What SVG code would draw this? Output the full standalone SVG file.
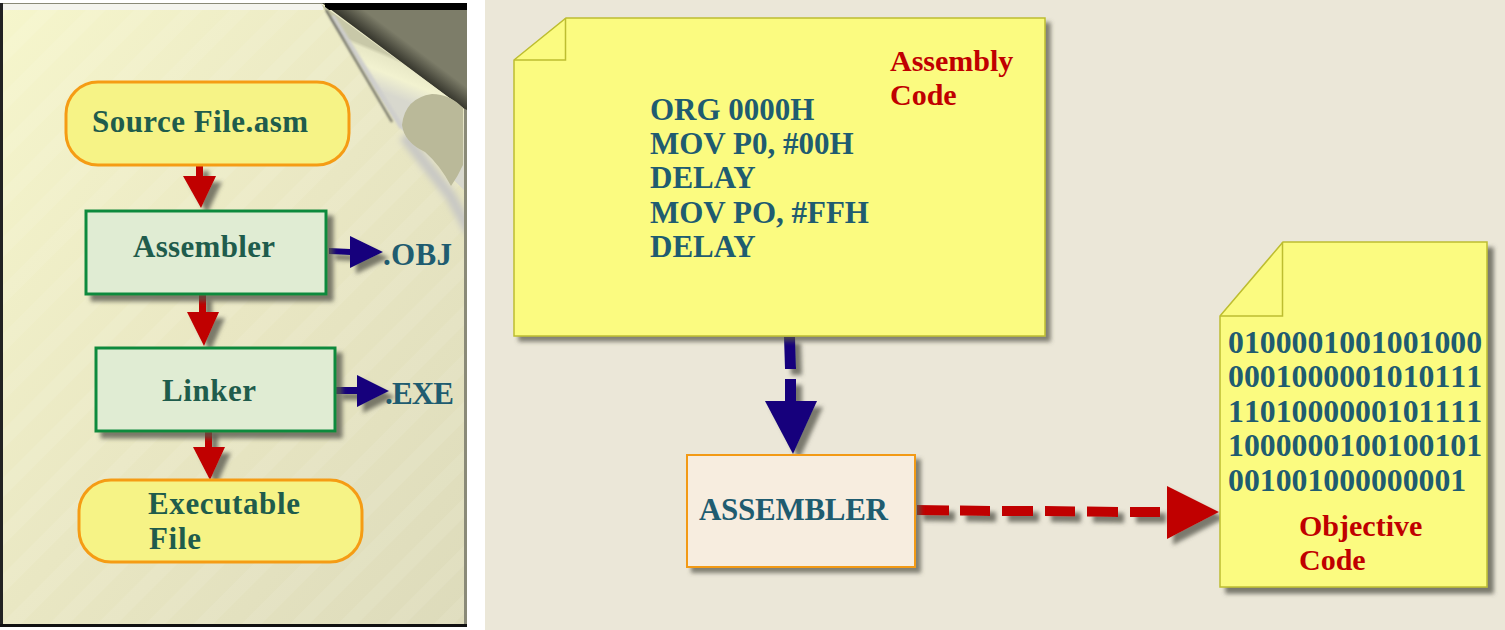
<svg xmlns="http://www.w3.org/2000/svg" width="1505" height="630" viewBox="0 0 1505 630">
<style>
text{font-family:"Liberation Serif","Times New Roman",serif;font-weight:bold}
.t{fill:#1F5C4C;font-size:31px}
.c{fill:#1F5C70;font-size:31px}
.b{fill:#1F5C70;font-size:31.750px;font-kerning:none}
.r{fill:#C00000;font-size:30px}
.term{fill:#F6F386;stroke:#F59C14;stroke-width:3}
.proc{fill:#E0ECD3;stroke:#0F8A3C;stroke-width:3}
.note{fill:#FBFB80;stroke:#BDBD30;stroke-width:1.500}
</style>
<defs>
<linearGradient id="pg" x1="0" y1="0" x2="1" y2="1"><stop offset="0" stop-color="#F6F6CC"/><stop offset="0.5" stop-color="#E9E7C3"/><stop offset="1" stop-color="#DDDBBB"/></linearGradient>
<linearGradient id="fold" gradientUnits="userSpaceOnUse" x1="378" y1="90" x2="392" y2="56"><stop offset="0" stop-color="#D8D8CE"/><stop offset="0.5" stop-color="#F2F2D0"/><stop offset="0.9" stop-color="#E8E8C6"/><stop offset="1" stop-color="#C8C8A8"/></linearGradient>
<linearGradient id="dark" gradientUnits="userSpaceOnUse" x1="392" y1="56" x2="404" y2="40"><stop offset="0" stop-color="#33332A"/><stop offset="1" stop-color="#7D7D69"/></linearGradient>
<pattern id="st" width="34" height="34" patternUnits="userSpaceOnUse" patternTransform="rotate(-45)"><rect width="34" height="14" fill="#FFFFFF" opacity="0.08"/></pattern>
<clipPath id="pc"><rect x="3" y="4" width="461" height="620"/></clipPath>
<filter id="s" x="-20%" y="-20%" width="150%" height="150%"><feDropShadow dx="6" dy="6" stdDeviation="2" flood-color="#55554A" flood-opacity="0.75"/></filter>
<filter id="sm" x="-10%" y="-10%" width="130%" height="130%"><feDropShadow dx="5" dy="5" stdDeviation="2" flood-color="#55554A" flood-opacity="0.7"/></filter>
<filter id="bl" x="-30%" y="-30%" width="160%" height="160%"><feGaussianBlur stdDeviation="3"/></filter>
<filter id="bl1" x="-30%" y="-30%" width="160%" height="160%"><feGaussianBlur stdDeviation="1"/></filter>
</defs>
<rect width="1505" height="630" fill="#FFFFFF"/>
<rect x="485" width="1020" height="630" fill="#EBE7D8"/>
<g id="page">
<rect x="0" y="3" width="467" height="624" fill="#8A8A78"/>
<rect x="0" y="3" width="3" height="624" fill="#222222"/>
<rect x="0" y="624" width="467" height="3" fill="#111111"/>
<rect x="3" y="4" width="461" height="620" fill="url(#pg)"/>
<rect x="3" y="4" width="461" height="620" fill="url(#st)"/>
<rect x="3" y="4" width="320" height="6" fill="#F4F4EE"/>
<polygon points="322,3 467,3 467,110 463,108" fill="url(#dark)"/>
<rect x="325" y="3" width="142" height="7" fill="#000000"/>
<g clip-path="url(#pc)"><path d="M404,136 L450,195 L470,232" fill="none" stroke="#C8C8C4" stroke-width="11" filter="url(#bl)"/></g>
<polygon points="321,4 463,108 464,190 402,130" fill="url(#fold)"/>
<path d="M332,16 L402,128" fill="none" stroke="#CFCFCC" stroke-width="5" filter="url(#bl1)"/>
<path d="M326,10 L392,122" fill="none" stroke="#66665C" stroke-width="2" filter="url(#bl1)"/>
<path d="M402,125 Q405,98 432,94 Q450,94 463,108 L463,165 Q458,176 451,186 Q440,165 425,152 Q404,142 402,125Z" fill="#BAB999"/>
</g>
<g id="connectors">
<g filter="url(#s)" fill="#C00000">
<rect x="196" y="165" width="7" height="12"/><polygon points="183,176 216,176 201,208"/>
<rect x="199" y="294" width="7" height="19"/><polygon points="187,312 219,312 204,346"/>
<rect x="205" y="428" width="7" height="20"/><polygon points="193,447 225,447 210,480"/>
<polygon points="917,505 949,505.500 949,515.500 917,515"/>
<polygon points="960,505.500 990,506 990,516 960,515.500"/>
<polygon points="1002,506 1033,506 1033,516 1002,516"/>
<polygon points="1045,506 1075,506.500 1075,516.500 1045,516"/>
<polygon points="1087,506.500 1118,507 1118,517 1087,516.500"/>
<polygon points="1130,507 1160,507 1160,517 1130,517"/>
<polygon points="1167,486 1219,512 1167,539"/>
</g>
<g filter="url(#s)" fill="#14007C">
<polygon points="329,248 350,249 350,255 329,254"/><polygon points="350,236 383,252 350,268"/>
<rect x="336" y="387" width="21" height="7"/><polygon points="357,375 389,391 357,407"/>
<polygon points="784,337 795,337 796,369 785,369"/>
<rect x="785" y="379" width="11" height="23"/>
<polygon points="765,401 817,401 793,454"/>
</g>
</g>
<g id="source-file"><rect class="term" x="66" y="82" width="283" height="83" rx="32"/><text class="t" x="92" y="132" textLength="216">Source File.asm</text></g>
<g id="assembler"><rect class="proc" x="86" y="211" width="240" height="83" filter="url(#s)"/><text class="t" x="133" y="257" textLength="142">Assembler</text></g>
<g id="obj"><text class="c" x="383" y="265" textLength="69">.OBJ</text></g>
<g id="linker"><rect class="proc" x="96" y="348" width="239" height="83" filter="url(#s)"/><text class="t" x="162" y="401" textLength="94">Linker</text></g>
<g id="exe"><text class="c" x="385" y="404" textLength="69">.EXE</text></g>
<g id="executable-file"><rect class="term" x="79" y="480" width="283" height="82" rx="32"/><text class="t" x="148" y="514" textLength="152">Executable</text><text class="t" x="149" y="549" textLength="52">File</text></g>
<g id="assembly-code">
<path class="note" d="M514,60 L566,18 H1045 V336 H514Z" filter="url(#sm)"/>
<path d="M514,60 H565.500 V18" fill="none" stroke="#BDBD30" stroke-width="1.500"/>
<text class="r" x="890" y="71">Assembly</text><text class="r" x="890" y="105">Code</text>
<text class="c" x="650" y="120">ORG 0000H</text>
<text class="c" x="650" y="154">MOV P0, #00H</text>
<text class="c" x="650" y="188">DELAY</text>
<text class="c" x="650" y="223">MOV PO, #FFH</text>
<text class="c" x="650" y="257">DELAY</text>
</g>
<g id="assembler-box"><rect x="687" y="455" width="228" height="112" fill="#F7EDDF" stroke="#F29A12" stroke-width="2" filter="url(#sm)"/><text class="c" x="699" y="520" textLength="189">ASSEMBLER</text></g>
<g id="objective-code">
<path class="note" d="M1220,316 L1283,242 H1487 V587 H1220Z" filter="url(#s)"/>
<path d="M1220,316 H1282.500 V242" fill="none" stroke="#BDBD30" stroke-width="1.500"/>
<text class="b" x="1228" y="353">0100001001001000</text>
<text class="b" x="1228" y="387">0001000001010111</text>
<text class="b" x="1228" y="422">1101000000101111</text>
<text class="b" x="1228" y="456">1000000100100101</text>
<text class="b" x="1228" y="491">001001000000001</text>
<text class="r" x="1299" y="536">Objective</text><text class="r" x="1299" y="570">Code</text>
</g>
</svg>
